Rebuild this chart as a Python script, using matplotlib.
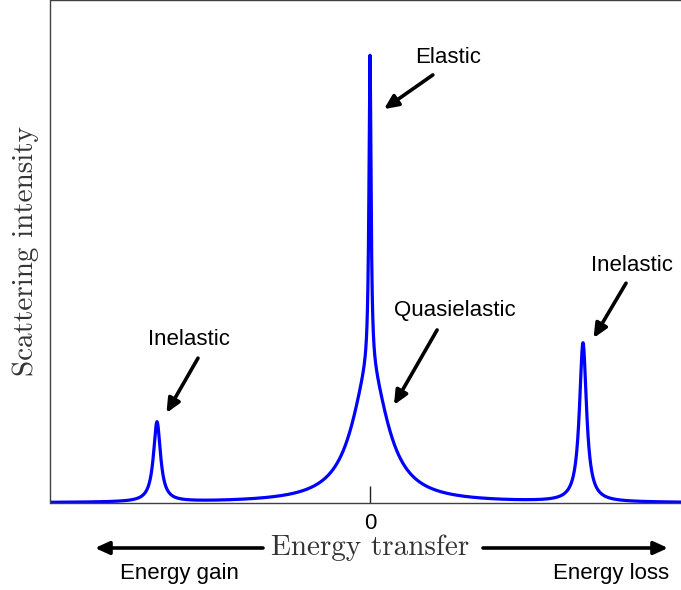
import numpy as np
import matplotlib
matplotlib.use('Agg')
import matplotlib.pyplot as plt
from matplotlib.patches import FancyArrowPatch

# Lorentzian components of the spectrum: inelastic (gain), elastic, quasielastic, inelastic (loss)
centers = [-2.0, 0.0, 0.0, 2.0]
heights = [0.159, 0.626, 0.264, 0.316]
hwhm = [0.04, 0.012, 0.20, 0.04]

labels = ['Elastic', 'Quasielastic', 'Inelastic', 'Inelastic']
label_xy = [(0.73, 0.885), (0.80, 0.382), (-1.704, 0.326), (2.46, 0.473)]
arrow_tail = [(0.59, 0.851), (0.63, 0.344), (-1.615, 0.288), (2.404, 0.437)]
arrow_head = [(0.131, 0.783), (0.225, 0.195), (-1.911, 0.179), (2.099, 0.328)]

energy = np.linspace(-3.0, 3.0, 12001)
intensity = np.zeros_like(energy)
for c, h, g in zip(centers, heights, hwhm):
    intensity += h * g**2 / ((energy - c)**2 + g**2)

SANS = 'Liberation Sans'
SERIF = 'cmr10'
SPINE = '#404040'
HEAD = '-|>,head_length=0.7,head_width=0.32'

fig = plt.figure(figsize=(6.81, 5.90), dpi=100)
ax = fig.add_axes([50.5 / 681, 87 / 590, 639 / 681, 503 / 590])
ax.plot(energy, intensity, color='#0000ff', lw=2.3, solid_capstyle='round')
ax.set_xlim(-3.0, 3.0)
ax.set_ylim(0, 1.0)

for s in ['left', 'top', 'bottom']:
    ax.spines[s].set_color(SPINE)
    ax.spines[s].set_linewidth(1.0)
ax.spines['right'].set_visible(False)
ax.set_yticks([])
ax.set_xticks([0])
ax.set_xticklabels(['0'], fontfamily=SANS, fontsize=16)
ax.tick_params(axis='x', direction='in', length=12, width=1.0, color='#202020', pad=7)

ax.set_ylabel('Scattering intensity', fontfamily=SERIF, fontsize=21, color='#333333', labelpad=8)

for lab, xy, tail, head in zip(labels, label_xy, arrow_tail, arrow_head):
    ax.text(*xy, lab, ha='center', va='center', fontfamily=SANS, fontsize=16)
    ax.annotate('', xy=head, xytext=tail,
                arrowprops=dict(arrowstyle=HEAD, color='k', lw=2.6,
                                shrinkA=0, shrinkB=0, mutation_scale=12))

# energy axis caption with direction arrows
fig.text(370 / 681, 0.0712, 'Energy transfer', ha='center', va='center',
         fontfamily=SERIF, fontsize=21, color='#333333')
for x0, x1 in [(263 / 681, 95 / 681), (483 / 681, 668 / 681)]:
    fig.add_artist(FancyArrowPatch((x0, 0.0712), (x1, 0.0712), transform=fig.transFigure,
                                   arrowstyle=HEAD, mutation_scale=12, color='k', lw=2.6,
                                   shrinkA=0, shrinkB=0))
fig.text(179 / 681, 0.0288, 'Energy gain', ha='center', va='center', fontfamily=SANS, fontsize=16)
fig.text(611.5 / 681, 0.0288, 'Energy loss', ha='center', va='center', fontfamily=SANS, fontsize=16)

fig.savefig('out.png', dpi=100)
print('ok')
